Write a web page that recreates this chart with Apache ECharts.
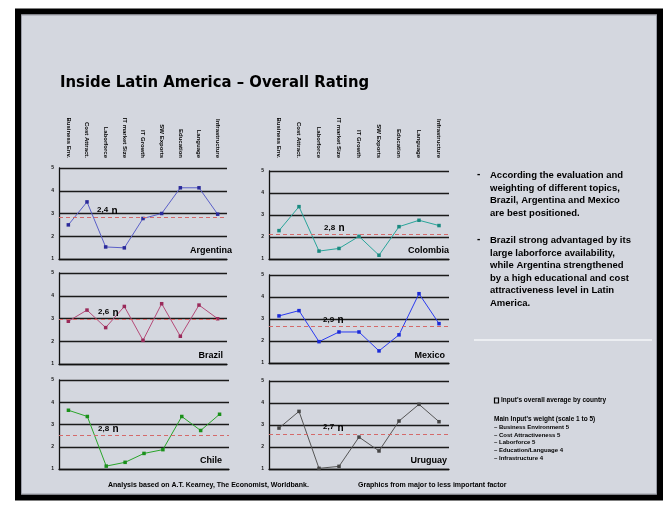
<!DOCTYPE html>
<html><head><meta charset="utf-8">
<script src="https://cdn.jsdelivr.net/npm/echarts@6/dist/echarts.min.js"></script>
<style>html,body{margin:0;padding:0;background:#fff}#c{width:669px;height:514px}</style>
</head><body><div id="c"></div><script>
// ---- data ----
const categories = ['Business Env.', 'Cost Attract.', 'Laborforce', 'IT market Size', 'IT Growth', 'SW Exports', 'Education', 'Language', 'Infrastructure'];
const yTicks = [1, 2, 3, 4, 5];
const countries = ['Argentina', 'Colombia', 'Brazil', 'Mexico', 'Chile', 'Uruguay'];
const argentina = [2.50, 3.51, 1.53, 1.49, 2.78, 3.00, 4.13, 4.13, 2.97];
const colombia  = [2.29, 3.38, 1.36, 1.48, 2.03, 1.17, 2.47, 2.76, 2.52];
const brazil    = [2.88, 3.37, 2.60, 3.53, 2.04, 3.65, 2.22, 3.59, 2.99];
const mexico    = [3.14, 3.38, 1.97, 2.41, 2.41, 1.55, 2.28, 4.15, 2.79];
const chile     = [3.64, 3.36, 1.13, 1.30, 1.70, 1.87, 3.36, 2.73, 3.46];
const uruguay   = [2.86, 3.62, 1.03, 1.12, 2.45, 1.82, 3.18, 3.94, 3.15];
const averages = [2.84, 2.12, 2.97, 2.65, 2.51, 2.58];
const averageLabels = ['2,4', '2,8', '2,6', '2,9', '2,8', '2,7'];
const titleText = 'Inside Latin America \u2013 Overall Rating';
const bullet1 = 'According the evaluation and\nweighting of different topics,\nBrazil, Argentina and Mexico\nare best positioned.';
const bullet2 = 'Brazil strong advantaged by its\nlarge laborforce availability,\nwhile Argentina strengthened\nby a high educational and cost\nattractiveness level in Latin\nAmerica.';
const legendLine1 = "Input's overall average by country";
const legendLine2 = "Main Input's weight (scale 1 to 5)";
const legendItems = ['\u2013 Business Environment 5', '\u2013 Cost Attractiveness 5', '\u2013 Laborforce 5', '\u2013 Education/Language 4', '\u2013 Infrastructure 4'];
const footer1 = 'Analysis based on A.T. Kearney, The Economist, Worldbank.';
const footer2 = 'Graphics from major to less important factor';

// ---- layout / style ----
const seriesData = [argentina, colombia, brazil, mexico, chile, uruguay];
const colors = ['#5a5fc8', '#2aa59a', '#b54a78', '#2a3af0', '#2aa52a', '#555555'];
const symColors = ['#2a2a9a', '#1a8a80', '#9a2a5a', '#1a2ad8', '#1a901a', '#444444'];
const grids = [
  {left: 59, top: 168, width: 168, height: 91},
  {left: 269, top: 171, width: 180, height: 88},
  {left: 59, top: 273, width: 168, height: 91},
  {left: 269, top: 275, width: 180, height: 88},
  {left: 59, top: 380, width: 170, height: 89},
  {left: 269, top: 381, width: 180, height: 88}
];
const nameRight = [437, 220, 446, 224, 447, 222];
const nameTop = [246, 246, 351, 351, 456, 456];
const labelDx = [38, 55, 39, 54, 39, 54];
const font = "'Liberation Sans', Arial, sans-serif";

const xAxes = [], yAxes = [], series = [], titles = [];
grids.forEach((g, i) => {
  xAxes.push({
    type: 'category', gridIndex: i, data: categories, position: 'bottom',
    axisLine: {show: true, lineStyle: {color: '#111', width: 1.3}},
    axisTick: {show: false}, axisLabel: {show: false}, splitLine: {show: false}
  });
  yAxes.push({
    type: 'value', gridIndex: i, min: yTicks[0], max: yTicks[yTicks.length - 1], interval: 1,
    axisLine: {show: true, lineStyle: {color: '#111', width: 1.3}},
    axisTick: {show: false},
    axisLabel: {show: true, fontSize: 5, fontWeight: 'bold', color: '#111', margin: 5, fontFamily: font},
    splitLine: {show: true, lineStyle: {color: '#1a1a1a', width: 1.3}}
  });
  series.push({
    type: 'line', xAxisIndex: i, yAxisIndex: i, data: seriesData[i],
    symbol: 'rect', symbolSize: 3.5, showSymbol: true,
    lineStyle: {color: colors[i], width: 1},
    itemStyle: {color: symColors[i]},
    silent: true, animation: false,
    markLine: {
      silent: true, symbol: ['none', 'none'], animation: false,
      lineStyle: {color: '#d46a6a', type: [4, 3], width: 1},
      label: {
        show: true, position: 'insideStartTop', distance: [labelDx[i], 1],
        formatter: () => '{a|' + averageLabels[i] + '} {b|n}',
        rich: {
          a: {fontSize: 8, fontWeight: 'bold', color: '#000', fontFamily: font},
          b: {fontSize: 10, fontWeight: 'bold', color: '#000', fontFamily: font, verticalAlign: 'bottom'}
        }
      },
      data: [{yAxis: averages[i]}]
    }
  });
  titles.push({
    text: countries[i], right: nameRight[i], top: nameTop[i], padding: 0,
    textStyle: {fontSize: 9, fontWeight: 'bold', color: '#000', fontFamily: font}
  });
});
// top category labels for the upper row
[0, 1].forEach(i => {
  xAxes.push({
    type: 'category', gridIndex: i, data: categories, position: 'top',
    axisLine: {show: false}, axisTick: {show: false}, splitLine: {show: false},
    axisLabel: {show: true, interval: 0, rotate: 90, fontSize: 6, fontWeight: 'bold',
      color: '#000', margin: i === 0 ? 10 : 13, fontFamily: font}
  });
});

titles.push({
  text: titleText, left: 60, top: 74, padding: 0,
  textStyle: {fontSize: 16.5, fontWeight: 'bold', color: '#000',
    fontFamily: "'Liberation Sans Narrow', 'DejaVu Sans Condensed', sans-serif"}
});

const txt = (x, y, s, size, extra) => Object.assign({
  type: 'text', x: x, y: y, silent: true,
  style: {text: s, fontSize: size, fontWeight: 'bold', fill: '#000', fontFamily: font}
}, extra || {});

const graphic = [
  {type: 'rect', silent: true, z: -10, shape: {x: 18, y: 11.5, width: 642, height: 486},
    style: {fill: '#d4d7df', stroke: '#000', lineWidth: 6}},
  {type: 'rect', silent: true, z: -9, shape: {x: 21.5, y: 15, width: 635, height: 479},
    style: {fill: 'none', stroke: '#9a9ca6', lineWidth: 1}},
  txt(477, 169, '-', 10),
  {type: 'text', x: 490, y: 169, silent: true,
    style: {text: bullet1, fontSize: 9.5, fontWeight: 'bold', fill: '#000', fontFamily: font, lineHeight: 12.6}},
  txt(477, 234, '-', 10),
  {type: 'text', x: 490, y: 234, silent: true,
    style: {text: bullet2, fontSize: 9.5, fontWeight: 'bold', fill: '#000', fontFamily: font, lineHeight: 12.6}},
  {type: 'line', silent: true, shape: {x1: 474, y1: 340, x2: 652, y2: 340},
    style: {stroke: '#eceef2', lineWidth: 2}},
  {type: 'rect', silent: true, shape: {x: 494.5, y: 398, width: 4, height: 5},
    style: {fill: 'none', stroke: '#000', lineWidth: 1.2}},
  txt(501, 397, legendLine1, 6.5),
  txt(494, 416, legendLine2, 6.5),
  txt(108, 481.5, footer1, 7),
  txt(358, 481.5, footer2, 7)
];
legendItems.forEach((s, k) => graphic.push(txt(494, 424.5 + k * 7.6, s, 6)));

const chart = echarts.init(document.getElementById('c'), null, {renderer: 'canvas'});
chart.setOption({
  backgroundColor: '#ffffff',
  animation: false,
  title: titles,
  grid: grids.map(g => Object.assign({containLabel: false, outerBoundsMode: 'none'}, g)),
  xAxis: xAxes,
  yAxis: yAxes,
  series: series,
  graphic: graphic
});
</script></body></html>
